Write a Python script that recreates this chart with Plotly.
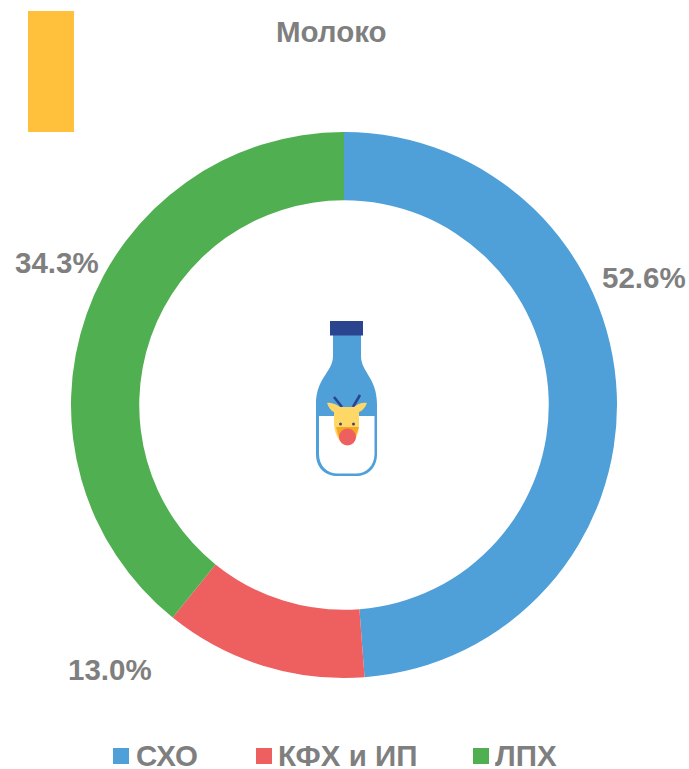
import base64
import plotly.graph_objects as go

W, H = 689, 769
title = "Молоко"
categories = ["СХО", "КФХ и ИП", "ЛПХ"]
# Printed labels in the reference do not match its arc sizes; both are kept as seen.
printed_labels = ["52.6%", "13.0%", "34.3%"]
arc_shares = [48.8, 12.0, 39.2]
colors = ["#4F9FD9", "#EE5F5F", "#50AF50"]
GREY = "#7F7F7F"
FONT = "Liberation Sans, Arial, sans-serif"

label_pos = [(644, 277), (110, 669), (57, 262)]
legend_sq = [113, 256, 473]
legend_tx = [136, 278, 495]


def px(x):
    return x / W


def py(y):
    return 1 - y / H


svg = """<svg xmlns="http://www.w3.org/2000/svg" width="330" height="525" viewBox="290 310 110 175">
<path d="M333 335 H361 V356 C361 372 377 378 377 404 V454 C377 468 368 476 356 476 H338 C325 476 316 468 316 454 V404 C316 378 333 372 333 356 Z" fill="#4F9FD9"/>
<path d="M319 416 H374.500 V454 C374.500 466 366 473.500 356 473.500 H338 C327 473.500 319 466 319 454 Z" fill="#fff"/>
<rect x="330" y="321" width="33" height="14.500" fill="#2A4490"/>
<path d="M334 397 L342 407 M360 395 L353 407" stroke="#2A4490" stroke-width="2.600" fill="none"/>
<path d="M327 403 C332 402 337 405 340 407 L354 407 C358 404 362 402 367 403 C365 408 362 411 359 412 L359 425 C359 436 353 445 347 445 C341 445 335 436 334 425 L334 412 C331 411 329 408 327 403 Z" fill="#FFD766"/>
<path d="M336 427 L359 427 L355 438 L339 438 Z" fill="#F5A623"/>
<circle cx="340.500" cy="424" r="1.500" fill="#3B4A6B"/><circle cx="353.500" cy="424" r="1.500" fill="#3B4A6B"/>
<ellipse cx="347.500" cy="437" rx="8.500" ry="8.500" fill="#EE5F5F"/>
</svg>"""
icon = "data:image/svg+xml;base64," + base64.b64encode(svg.encode()).decode()

fig = go.Figure(
    go.Pie(
        labels=categories,
        values=arc_shares,
        hole=0.75,
        sort=False,
        direction="clockwise",
        rotation=0,
        textinfo="none",
        marker=dict(colors=colors, line=dict(width=0)),
        domain=dict(x=[px(71), px(617)], y=[py(678), py(132)]),
        showlegend=False,
    )
)

ann = [
    dict(text=title, x=px(331), y=py(32), xanchor="center", yanchor="middle",
         font=dict(size=29.5)),
]
for t, (x, y) in zip(printed_labels, label_pos):
    ann.append(dict(text=t, x=px(x), y=py(y), xanchor="center", yanchor="middle",
                    font=dict(size=29.5)))
for c, x in zip(categories, legend_tx):
    ann.append(dict(text=c, x=px(x), y=py(755), xanchor="left", yanchor="middle",
                    height=28, font=dict(size=29.5)))
for a in ann:
    a.update(xref="paper", yref="paper", showarrow=False, xshift=0, borderpad=0,
             borderwidth=0)
    a["text"] = f"<b>{a['text']}</b>"
    a["font"].update(family=FONT, color=GREY)

shapes = [
    dict(type="rect", xref="paper", yref="paper", x0=px(28), x1=px(74), y0=py(132), y1=py(11),
         fillcolor="#FFC13B", line_width=0)
]
for col, x in zip(colors, legend_sq):
    shapes.append(dict(type="rect", xref="paper", yref="paper", x0=px(x), x1=px(x + 16),
                       y0=py(764), y1=py(748), fillcolor=col, line_width=0))

fig.update_layout(
    width=W,
    height=H,
    margin=dict(l=0, r=0, t=0, b=0),
    paper_bgcolor="white",
    annotations=ann,
    shapes=shapes,
    images=[dict(source=icon, xref="paper", yref="paper", x=px(290), y=py(310),
                 sizex=110 / W, sizey=175 / H, xanchor="left", yanchor="top",
                 sizing="stretch", layer="above")],
)
fig.write_html("out.html", config=dict(displayModeBar=False),
               post_script="document.body.style.margin='0';document.documentElement.style.overflow='hidden';")
